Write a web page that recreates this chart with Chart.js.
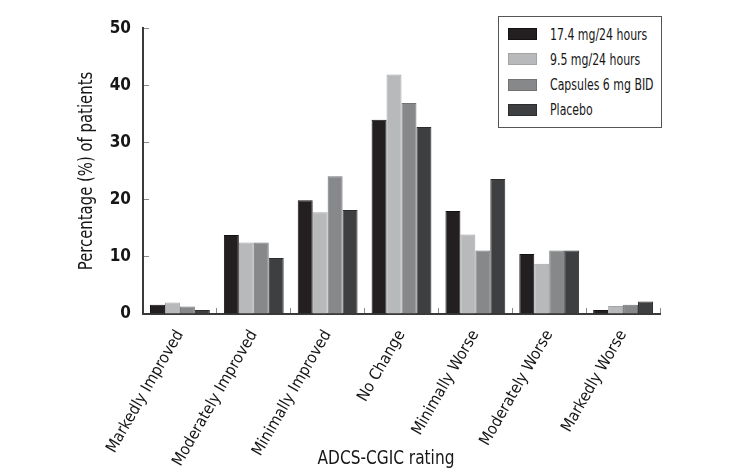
<!DOCTYPE html>
<html>
<head>
<meta charset="utf-8">
<script src="https://cdn.jsdelivr.net/npm/chart.js@4.4.0/dist/chart.umd.min.js"></script>
<style>
  html, body { margin: 0; padding: 0; background: #ffffff; }
  #wrap { position: relative; width: 750px; height: 473px; }
  canvas { display: block; }
  #legend {
    position: absolute; left: 498px; top: 16px; width: 164px; height: 112px;
    border: 1.5px solid #555; box-sizing: border-box; background: #fff;
    font-family: "DejaVu Sans Condensed", "Liberation Sans", sans-serif;
    font-size: 16px; color: #161616;
  }
  .item { position: absolute; left: 9px; height: 16px; display: flex; align-items: center; white-space: nowrap; }
  .sw { width: 29px; height: 12px; box-sizing: border-box; margin-right: 13px; flex: none; }
  .tx { display: inline-block; transform: scaleX(0.76); transform-origin: left center; }
</style>
</head>
<body>
<div id="wrap">
  <canvas id="c" width="750" height="473"></canvas>
  <div id="legend"></div>
</div>
<script>
// ---- data ----
const categories = ["Markedly Improved", "Moderately Improved", "Minimally Improved", "No Change", "Minimally Worse", "Moderately Worse", "Markedly Worse"];
const seriesNames = ["17.4 mg/24 hours", "9.5 mg/24 hours", "Capsules 6 mg BID", "Placebo"];
const dose17 = [1.6, 13.8, 19.9, 34.0, 18.0, 10.5, 0.7];
const dose95 = [2.0, 12.5, 17.8, 41.9, 13.9, 8.8, 1.4];
const capsules = [1.3, 12.5, 24.1, 36.9, 11.1, 11.1, 1.6];
const placebo = [0.7, 9.8, 18.2, 32.7, 23.6, 11.1, 2.2];
const yTicks = [0, 10, 20, 30, 40, 50];
const xTitle = "ADCS-CGIC rating";
const yTitle = "Percentage (%) of patients";

// ---- styles ----
const fills = ["#231f20", "#b8b9bb", "#87888a", "#3e3f41"];
const edges = ["#141213", "#a3a4a6", "#727375", "#2c2d2f"];
const FONT = '"DejaVu Sans Condensed", "Liberation Sans", sans-serif';

const values = [dose17, dose95, capsules, placebo];
const datasets = seriesNames.map((name, i) => ({
  label: name,
  data: values[i],
  backgroundColor: fills[i],
  borderColor: edges[i],
  borderWidth: 1,
  categoryPercentage: 0.81,
  barPercentage: 1.0
}));

const axisTitles = {
  id: 'axisTitles',
  afterDraw(chart) {
    const ctx = chart.ctx;
    ctx.save();
    ctx.fillStyle = '#161616';
    ctx.font = '19px ' + FONT;
    ctx.textAlign = 'center';
    ctx.textBaseline = 'middle';
    ctx.save();
    ctx.translate(386, 459);
    ctx.scale(0.9, 1);
    ctx.fillText(xTitle, 0, 0);
    ctx.restore();
    ctx.translate(87, 171);
    ctx.rotate(-Math.PI / 2);
    ctx.scale(0.87, 1);
    ctx.fillText(yTitle, 0, 0);
    ctx.restore();
  }
};

new Chart(document.getElementById('c'), {
  type: 'bar',
  data: { labels: categories, datasets },
  options: {
    responsive: false,
    animation: false,
    layout: { padding: { left: 0, top: 16, right: 90, bottom: 0 } },
    plugins: { legend: { display: false }, tooltip: { enabled: false } },
    scales: {
      x: {
        grid: { display: true, drawOnChartArea: false, drawTicks: true, tickLength: -6, offset: true, color: '#8a8a8a', lineWidth: 1 },
        border: { display: true, color: '#3a3a3a', width: 2 },
        ticks: { color: '#161616', font: { family: FONT, size: 16 }, minRotation: 60, maxRotation: 60, padding: 19, autoSkip: false },
        afterFit(scale) { scale.height = 159; }
      },
      y: {
        min: 0, max: 50,
        afterBuildTicks(scale) { scale.ticks = yTicks.map(v => ({ value: v })); },
        grid: { display: true, drawOnChartArea: false, drawTicks: true, tickLength: -6, color: '#8a8a8a', lineWidth: 1 },
        border: { display: true, color: '#3a3a3a', width: 2 },
        ticks: { color: '#161616', font: { family: FONT, size: 17, weight: 'bold' }, padding: 18 },
        afterFit(scale) { scale.width = 143; }
      }
    }
  },
  plugins: [axisTitles]
});

// HTML legend built from the series arrays
const leg = document.getElementById('legend');
seriesNames.forEach((name, i) => {
  const it = document.createElement('div');
  it.className = 'item';
  it.style.top = (9 + i * 25.3) + 'px';
  const sw = document.createElement('span');
  sw.className = 'sw';
  sw.style.background = fills[i];
  sw.style.border = '1px solid ' + edges[i];
  const tx = document.createElement('span');
  tx.className = 'tx';
  tx.textContent = name;
  it.appendChild(sw); it.appendChild(tx);
  leg.appendChild(it);
});
</script>
</body>
</html>
